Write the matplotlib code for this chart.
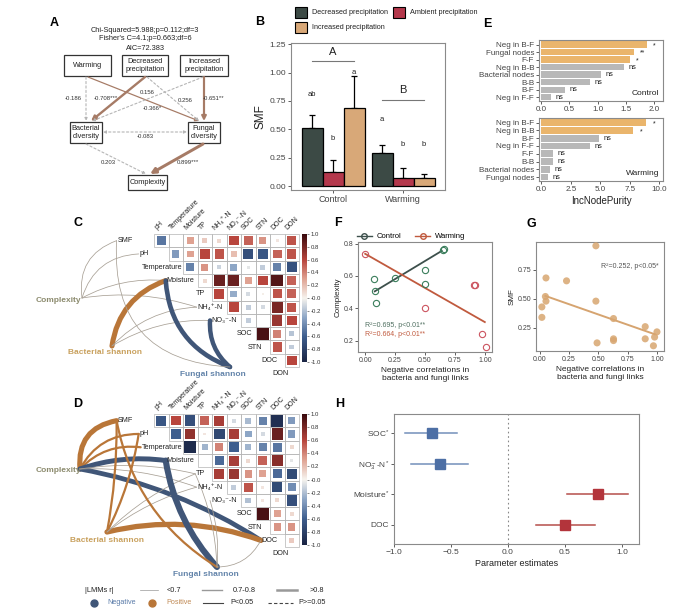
import numpy as np
import matplotlib
matplotlib.use("Agg")
import matplotlib.pyplot as plt
from matplotlib.colors import LinearSegmentedColormap, Normalize
from matplotlib.patches import Rectangle, FancyArrowPatch, PathPatch
from matplotlib.path import Path
from matplotlib.lines import Line2D
import matplotlib.cm as cm

plt.rcParams["font.family"] = ["Liberation Sans", "DejaVu Sans"]
plt.rcParams["mathtext.fontset"] = "custom"
plt.rcParams["mathtext.rm"] = "Liberation Sans"
plt.rcParams["mathtext.it"] = "Liberation Sans:italic"
plt.rcParams["mathtext.bf"] = "Liberation Sans:bold"

# ===================== DATA =====================
# A: SEM
sem_fit = ["Chi-Squared=5.988;p=0.112;df=3", "Fisher's C=4.1;p=0.663;df=6", "AIC=72.383"]
sem_node_keys = ["warm", "dec", "inc", "bac", "fun", "cpx"]
sem_node_labels = ["Warming", "Decreased\nprecipitation", "Increased\nprecipitation",
                   "Bacterial\ndiversity", "Fungal\ndiversity", "Complexity"]
sem_src = ["warm", "dec", "warm", "dec", "inc", "inc", "bac", "bac", "fun"]
sem_dst = ["bac", "bac", "fun", "fun", "bac", "fun", "fun", "cpx", "cpx"]
sem_coef = [-0.186, -0.708, -0.366, 0.256, 0.156, -0.651, -0.083, 0.203, 0.899]
sem_stars = ["", "***", "*", "", "", "**", "", "", "***"]

# B: SMF bars
smf_groups = ["Control", "Warming"]
smf_treat = ["Decreased precipitation", "Ambient precipitation", "Increased precipitation"]
smf_ctrl = [0.51, 0.125, 0.69]
smf_ctrl_up = [0.63, 0.225, 0.97]
smf_warm = [0.29, 0.075, 0.068]
smf_warm_up = [0.36, 0.155, 0.11]
smf_ctrl_letters = ["ab", "b", "a"]
smf_ctrl_letter_y = [0.81, 0.42, 1.00]
smf_warm_letters = ["a", "b", "b"]
smf_warm_letter_y = [0.59, 0.37, 0.37]
smf_group_letters = ["A", "B"]
smf_group_letter_y = [1.18, 0.845]
smf_group_line_y = [1.10, 0.755]

# E: random forest importance
imp_ctrl_labels = ["Neg in B-F", "Fungal nodes", "F-F", "Neg in B-B", "Bacterial nodes", "B-B", "B-F", "Neg in F-F"]
imp_ctrl = [1.87, 1.65, 1.58, 1.46, 1.06, 0.87, 0.42, 0.17]
imp_ctrl_sig = ["*", "**", "*", "ns", "ns", "ns", "ns", "ns"]
imp_warm_labels = ["Neg in B-F", "Neg in B-B", "B-F", "Neg in F-F", "F-F", "B-B", "Bacterial nodes", "Fungal nodes"]
imp_warm = [8.9, 7.8, 4.9, 4.1, 1.0, 0.95, 0.75, 0.55]
imp_warm_sig = ["*", "*", "ns", "ns", "ns", "ns", "ns", "ns"]

# C / D: correlation matrices (upper triangle rows)
corr_rows = ["SMF", "pH", "Temperature", "Moisture", "TP", "NH₄⁺-N", "NO₃⁻-N", "SOC", "STN", "DOC", "DON"]
corr_cols = ["pH", "Temperature", "Moisture", "TP", "NH₄⁺-N", "NO₃⁻-N", "SOC", "STN", "DOC", "DON"]
corr_c = [
    [-0.50, 0.00, 0.30, 0.15, 0.10, 0.60, 0.50, 0.35, 0.05, 0.55],
    [-0.35, 0.30, 0.60, 0.55, 0.20, -0.70, -0.65, 0.50, 0.55],
    [-0.45, 0.35, -0.12, -0.30, -0.05, -0.15, -0.45, -0.68],
    [0.10, 0.85, 0.85, 0.30, 0.60, 0.92, 0.50],
    [0.60, -0.28, -0.10, 0.02, 0.55, 0.50],
    [0.60, -0.15, -0.10, 0.80, 0.55],
    [-0.15, 0.00, 0.70, 0.60],
    [0.95, 0.40, -0.18],
    [0.55, -0.15],
    [0.60],
]
corr_d = [
    [-0.65, 0.60, -0.70, 0.50, 0.65, -0.10, -0.22, -0.45, -0.92, -0.35],
    [-0.60, 0.72, 0.05, -0.75, 0.65, -0.30, -0.10, 0.85, -0.35],
    [-0.95, -0.25, 0.40, -0.60, -0.25, -0.45, -0.50, 0.10],
    [0.00, -0.55, 0.65, 0.10, 0.50, 0.75, -0.05],
    [0.65, 0.70, 0.35, 0.30, -0.55, -0.72],
    [-0.15, 0.55, 0.05, -0.72, -0.40],
    [-0.20, 0.05, 0.10, -0.70],
    [0.95, 0.30, 0.10],
    [0.35, 0.35],
    [0.15],
]
# network links (LMMs r)
c_link_from = ["Complexity", "Complexity", "Complexity", "Complexity",
               "Bacterial shannon", "Bacterial shannon", "Bacterial shannon",
               "Fungal shannon", "Fungal shannon", "Fungal shannon"]
c_link_to = ["SMF", "pH", "Moisture", "NH₄⁺-N", "Moisture", "NH₄⁺-N", "NO₃⁻-N", "Moisture", "NO₃⁻-N", "SMF"]
c_link_r = [0.45, 0.40, 0.35, 0.30, 0.86, 0.40, 0.38, -0.83, -0.82, 0.42]
d_link_from = ["Complexity"] * 7 + ["Bacterial shannon"] * 5 + ["Fungal shannon"] * 5
d_link_to = ["SMF", "pH", "Temperature", "Moisture", "DOC", "TP", "NH₄⁺-N",
             "SMF", "pH", "DOC", "TP", "NH₄⁺-N",
             "Moisture", "SMF", "DOC", "TP", "NO₃⁻-N"]
d_link_r = [0.86, 0.75, 0.74, -0.85, -0.84, 0.30, 0.35,
            0.76, 0.75, 0.87, 0.30, 0.30,
            -0.92, 0.74, 0.40, 0.30, 0.30]

# F: complexity vs negative correlations
f_ctrl_x = [0.07, 0.08, 0.09, 0.25, 0.50, 0.50, 0.65, 0.655]
f_ctrl_y = [0.58, 0.505, 0.43, 0.586, 0.635, 0.55, 0.763, 0.768]
f_warm_x = [0.00, 0.50, 0.91, 0.915, 0.98, 1.01]
f_warm_y = [0.737, 0.40, 0.545, 0.545, 0.243, 0.158]
f_ctrl_fit_x = [0.08, 0.64]
f_ctrl_fit_y = [0.505, 0.755]
f_warm_fit_x = [0.00, 1.00]
f_warm_fit_y = [0.737, 0.315]
f_ctrl_stat = "R²=0.695, p<0.01**"
f_warm_stat = "R²=0.664, p<0.01**"

# G: SMF vs negative correlations
g_x = [0.02, 0.02, 0.05, 0.055, 0.055, 0.23, 0.48, 0.48, 0.49, 0.63, 0.63, 0.63, 0.90, 0.90, 0.97, 0.98, 1.00]
g_y = [0.43, 0.34, 0.52, 0.48, 0.68, 0.655, 0.957, 0.48, 0.12, 0.33, 0.155, 0.14, 0.26, 0.155, 0.095, 0.17, 0.215]
g_fit_x = [0.05, 0.98]
g_fit_y = [0.525, 0.195]
g_stat = "R²=0.252, p<0.05*"

# H: LMM parameter estimates
lmm_vars = ["SOC", r"NO$_3^-$-N", "Moisture", "DOC"]
lmm_sig = ["*", "*", "*", ""]
lmm_est = [-0.67, -0.60, 0.79, 0.50]
lmm_lo = [-0.90, -0.85, 0.52, 0.25]
lmm_hi = [-0.45, -0.35, 1.05, 0.76]

# ===================== STYLE =====================
W, H = 700, 615
fig = plt.figure(figsize=(W / 100, H / 100), dpi=100)
TXT = "#222222"
TICK = "#444444"
SPINE = "#8A8A8A"
smf_colors = ["#3C4A45", "#B4384C", "#D8A878"]
orange, grey_bar = "#EAB56C", "#B8B8B8"
pos_col, neg_col, thin_col = "#B97638", "#405678", "#A8A095"
cmap = LinearSegmentedColormap.from_list(
    "rb", [(0.0, "#1A2443"), (0.2, "#3E5E8E"), (0.35, "#8EA6C6"), (0.5, "#F6F3EE"),
           (0.65, "#DFA393"), (0.8, "#B8453D"), (1.0, "#3A0A0E")])
norm = Normalize(-1, 1)


def px_axes(l, t, r, b):
    return fig.add_axes([l / W, 1 - b / H, (r - l) / W, (b - t) / H])


def style_axes(ax, fs=5.5):
    for s in ax.spines.values():
        s.set_color(SPINE)
        s.set_linewidth(0.8)
    ax.tick_params(labelsize=fs, colors=TICK, length=2, width=0.6, pad=1.5)


ov = px_axes(0, 0, W, H)
ov.set_xlim(0, W)
ov.set_ylim(H, 0)
ov.axis("off")

for lab, (x, y) in zip("ABCDEFGH", [(54, 23), (260, 22), (78, 223), (78, 404),
                                     (487, 24), (338, 223), (531, 224), (340, 404)]):
    ov.text(x, y, lab, fontsize=9, fontweight="bold", ha="center", va="center", color="black")

# ===================== A =====================
for i, line in enumerate(sem_fit):
    ov.text(145, 30 + 9 * i, line, fontsize=5.3, ha="center", va="center", color=TXT)
box_geom = {"warm": (64, 55, 111, 76), "dec": (122, 55, 168, 76), "inc": (180, 55, 228, 76),
            "bac": (70, 122, 102, 143), "fun": (188, 122, 220, 143), "cpx": (128, 175, 167, 190)}
for key, lab in zip(sem_node_keys, sem_node_labels):
    l, t, r, b = box_geom[key]
    ov.add_patch(Rectangle((l, t), r - l, b - t, fill=False, ec="#333333", lw=0.9))
    ov.text((l + r) / 2, (t + b) / 2, lab, fontsize=5.3, ha="center", va="center",
            linespacing=1.05, color=TXT)
path_geom = [((86, 77), (86, 121), (73, 99)),
             ((145, 77), (91, 121), (106, 99)),
             ((88, 77), (199, 121), (152, 108)),
             ((147, 77), (199, 121), (185, 100)),
             ((203, 77), (92, 121), (147, 93)),
             ((204, 77), (204, 121), (214, 99)),
             ((103, 132), (187, 132), (145, 137)),
             ((86, 144), (146, 174), (108, 162)),
             ((203, 144), (150, 174), (188, 162))]
for s, d, c, st, (p0, p1, lp) in zip(sem_src, sem_dst, sem_coef, sem_stars, path_geom):
    sig = st != ""
    style = "<|-|>" if (s, d) == ("bac", "fun") else "-|>"
    if sig:
        arr = FancyArrowPatch(p0, p1, arrowstyle=style, mutation_scale=4 + 4 * abs(c),
                              color="#A67B66", lw=2.4 * abs(c), shrinkA=0, shrinkB=0)
    else:
        arr = FancyArrowPatch(p0, p1, arrowstyle=style, mutation_scale=4, color="#B5B5B5",
                              lw=0.8, linestyle=(0, (2, 2)), shrinkA=0, shrinkB=0)
    ov.add_patch(arr)
    ov.text(lp[0], lp[1], f"{c:.3f}{st}", fontsize=4.3, ha="center", va="center", color="#333333")

# ===================== B =====================
axb = px_axes(291, 43, 445, 190)
xs = np.arange(len(smf_groups)) + 1.0
bw = 0.3
for k, col in enumerate(smf_colors):
    pos = xs + (k - 1) * bw
    vals = np.array([smf_ctrl[k], smf_warm[k]])
    ups = np.array([smf_ctrl_up[k], smf_warm_up[k]])
    axb.errorbar(pos, vals, yerr=[np.zeros(2), ups - vals], fmt="none", ecolor="black",
                 elinewidth=0.9, capsize=2.2, capthick=0.9, zorder=1)
    axb.bar(pos, vals, bw, color=col, edgecolor="black", lw=0.9, zorder=2)
    for p, lt, ly in zip(pos, [smf_ctrl_letters[k], smf_warm_letters[k]],
                         [smf_ctrl_letter_y[k], smf_warm_letter_y[k]]):
        axb.text(p, ly, lt, ha="center", va="center", fontsize=5.5, color=TXT)
for g in range(len(smf_groups)):
    axb.text(xs[g], smf_group_letter_y[g], smf_group_letters[g], ha="center", va="center",
             fontsize=8, color=TXT)
    axb.plot([xs[g] - 0.3, xs[g] + 0.3], [smf_group_line_y[g]] * 2, color="#777777", lw=0.8)
axb.set_xlim(0.4, 2.6)
axb.set_ylim(-0.035, 1.26)
axb.set_xticks(xs)
axb.set_xticklabels(smf_groups)
axb.set_yticks([0, 0.25, 0.5, 0.75, 1.0, 1.25])
axb.set_yticklabels(["0.00", "0.25", "0.50", "0.75", "1.00", "1.25"])
style_axes(axb, 6)
axb.tick_params(axis="x", labelsize=6.5)
axb.set_ylabel("SMF", fontsize=8.5, color=TXT, labelpad=2)
leg_pos = [(295, 7), (393, 7), (295, 22)]
for (x, y), lab, col in zip(leg_pos, smf_treat, smf_colors):
    ov.add_patch(Rectangle((x, y), 12, 11, fc=col, ec="black", lw=0.8))
    ov.text(x + 17, y + 5.5, lab, fontsize=5.2, va="center", ha="left", color=TXT)

# ===================== E =====================
def imp_panel(rect, labels, vals, sigs, xlim, ticks, ticklabels, tag, off):
    ax = px_axes(*rect)
    y = np.arange(len(labels))
    cols = [orange if s != "ns" else grey_bar for s in sigs]
    ax.barh(y, vals, height=0.85, color=cols, zorder=2)
    for yi, v, s in zip(y, vals, sigs):
        if s == "ns":
            ax.text(v + off, yi, s, fontsize=5.3, va="center", ha="left", color=TXT)
        else:
            ax.text(v + off * 1.3, yi + 0.15, s, fontsize=5, va="center", ha="left", color=TXT)
    ax.set_ylim(7.5, -0.6)
    ax.set_xlim(*xlim)
    ax.set_yticks(y)
    ax.set_yticklabels(labels)
    ax.set_xticks(ticks)
    ax.set_xticklabels(ticklabels)
    style_axes(ax, 5.8)
    ax.text(0.97, 0.06, tag, transform=ax.transAxes, ha="right", va="bottom", fontsize=6, color=TXT)
    return ax

imp_panel((539, 40, 663, 101), imp_ctrl_labels, imp_ctrl, imp_ctrl_sig, (-0.04, 2.16),
          [0, 0.5, 1.0, 1.5, 2.0], ["0.0", "0.5", "1.0", "1.5", "2.0"], "Control", 0.08)
axe2 = imp_panel((539, 118, 663, 181), imp_warm_labels, imp_warm, imp_warm_sig, (-0.2, 10.3),
                 [0, 2.5, 5, 7.5, 10], ["0.0", "2.5", "5.0", "7.5", "10.0"], "Warming", 0.4)
axe2.set_xlabel("IncNodePurity", fontsize=7, color=TXT, labelpad=2)

# ===================== C / D heatmaps + networks =====================
cell_w, cell_h = 14.5, 13.3
row_gap = [1.45, 1.35, 0.05, 0.2, 0.45, 0.25, 0.3, 0.25, 0.55, 0.45, 0.7]


def draw_corr(top, rmat):
    ax = px_axes(154, top, 154 + 10 * cell_w, top + 10 * cell_h)
    ax.set_xlim(0, 10)
    ax.set_ylim(10, 0)
    ax.axis("off")
    for i, row in enumerate(rmat):
        for k, v in enumerate(row):
            j = i + k
            ax.add_patch(Rectangle((j, i), 1, 1, fill=False, ec="#B4B4B4", lw=0.5, clip_on=False))
            s = 0.93 * np.sqrt(abs(v))
            sw = s * cell_h / cell_w
            ax.add_patch(Rectangle((j + 0.5 - sw / 2, i + 0.5 - s / 2), sw, s,
                                   fc=cmap(norm(v)), ec="none", clip_on=False))
    for j, lab in enumerate(corr_cols):
        ax.text(j + 0.3, -0.2, lab, rotation=45, ha="left", va="bottom", rotation_mode="anchor",
                fontsize=5, color=TXT, clip_on=False)
    texts = {}
    for i, lab in enumerate(corr_rows):
        texts[lab] = ax.text(i - row_gap[i], i + 0.5, lab, ha="right", va="center",
                             fontsize=5.2, color=TXT, clip_on=False)
    cax = px_axes(302, top, 307, top + 128 + (top > 300) * 3)
    ticks = np.round(np.arange(-1, 1.01, 0.2), 1)
    cb = fig.colorbar(cm.ScalarMappable(norm=norm, cmap=cmap), cax=cax, ticks=ticks)
    cb.outline.set_visible(False)
    cb.ax.tick_params(labelsize=4.3, length=1.5, width=0.4, pad=1, colors="#333333")
    cb.ax.set_yticklabels([f"{v:.1f}" for v in ticks])
    return texts


texts_c = draw_corr(234, corr_c)
texts_d = draw_corr(414, corr_d)

renderer = fig.canvas.get_renderer()
inv = ov.transData.inverted()


def anchors_of(texts):
    out = {}
    for lab, t in texts.items():
        bb = t.get_window_extent(renderer=renderer)
        out[lab] = inv.transform((bb.x0 - 1, (bb.y0 + bb.y1) / 2))
    return out


def draw_links(froms, tos, rs, curvs, nodes, anchors):
    for f, t, r, c in zip(froms, tos, rs, curvs):
        p0 = np.array(nodes[f], float)
        p1 = np.array(anchors[t], float)
        d = p1 - p0
        perp = np.array([-d[1], d[0]])
        ctrl = (p0 + p1) / 2 + c * perp
        a = abs(r)
        if a < 0.7:
            lw, col = 0.55, thin_col
        elif a < 0.8:
            lw, col = 1.6, (pos_col if r > 0 else neg_col)
        else:
            lw, col = 3.2 + 12 * (a - 0.82), (pos_col if r > 0 else neg_col)
        path = Path([p0, ctrl, p1], [Path.MOVETO, Path.CURVE3, Path.CURVE3])
        ov.add_patch(PathPatch(path, fill=False, ec=col, lw=lw, capstyle="round"))


node_colors = {"Complexity": "#8C8B6E", "Bacterial shannon": "#C9A15E", "Fungal shannon": "#6384AA"}
c_nodes = {"Complexity": (82, 298), "Bacterial shannon": (112, 346), "Fungal shannon": (230, 367)}
c_label_pos = {"Complexity": (58, 301), "Bacterial shannon": (105, 352), "Fungal shannon": (213, 375)}
d_nodes = {"Complexity": (80, 469), "Bacterial shannon": (107, 532), "Fungal shannon": (217, 567)}
d_label_pos = {"Complexity": (58, 471), "Bacterial shannon": (107, 541), "Fungal shannon": (206, 575)}
c_curv = [-0.4, -0.35, -0.15, -0.12, -0.3, -0.2, -0.15, -0.32, -0.25, -0.5]
d_curv = [-0.45, -0.3, -0.25, -0.12, -0.1, -0.1, -0.1,
          0.05, 0.08, -0.15, -0.1, -0.1,
          -0.15, -0.22, 0.3, 0.1, 0.1]

draw_links(c_link_from, c_link_to, c_link_r, c_curv, c_nodes, anchors_of(texts_c))
draw_links(d_link_from, d_link_to, d_link_r, d_curv, d_nodes, anchors_of(texts_d))
for lp in (c_label_pos, d_label_pos):
    for name, (x, y) in lp.items():
        ov.text(x, y, name, fontsize=6, fontweight="bold", color=node_colors[name],
                ha="center", va="center")

# D legend
ov.text(85, 590, "|LMMs r|", fontsize=5.3, va="center", ha="left", color=TXT)
for (x0, x1, xt), lab, lw in zip([(140, 158, 167), (202, 222, 233), (277, 297, 310)],
                                 ["<0.7", "0.7-0.8", ">0.8"], [0.5, 1.0, 1.8]):
    ov.plot([x0, x1], [590, 590], color="#999999", lw=lw)
    ov.text(xt, 590, lab, fontsize=5.3, va="center", ha="left", color=TXT)
ov.plot([94], [603], marker="o", ms=5, color=neg_col, ls="none")
ov.text(107, 603, "Negative", fontsize=5.2, va="center", ha="left", color="#5A7BA8")
ov.plot([152], [603], marker="o", ms=5, color=pos_col, ls="none")
ov.text(166, 603, "Positive", fontsize=5.2, va="center", ha="left", color="#C08A55")
ov.plot([203, 223], [603, 603], color="#444444", lw=0.8)
ov.text(230, 603, "P<0.05", fontsize=5.2, va="center", ha="left", color=TXT)
ov.plot([268, 293], [603, 603], color="#444444", lw=0.8, ls=(0, (3, 2)))
ov.text(298, 603, "P>=0.05", fontsize=5.2, va="center", ha="left", color=TXT)

# ===================== F =====================
axf = px_axes(358, 242, 492, 352)
ctrl_line, ctrl_pt = "#3D504C", "#3B7E5C"
warm_line, warm_pt = "#C05A3E", "#CC5560"
axf.plot(f_ctrl_fit_x, f_ctrl_fit_y, color=ctrl_line, lw=1.3, zorder=2)
axf.plot(f_warm_fit_x, f_warm_fit_y, color=warm_line, lw=1.3, zorder=2)
axf.plot(f_ctrl_x, f_ctrl_y, "o", mfc="none", mec=ctrl_pt, ms=4.5, mew=0.8, zorder=3)
axf.plot(f_warm_x, f_warm_y, "o", mfc="none", mec=warm_pt, ms=4.5, mew=0.8, zorder=3)
axf.set_xlim(-0.06, 1.06)
axf.set_ylim(0.13, 0.81)
axf.set_xticks([0, 0.25, 0.5, 0.75, 1.0])
axf.set_xticklabels(["0.00", "0.25", "0.50", "0.75", "1.00"])
axf.set_yticks([0.2, 0.4, 0.6, 0.8])
style_axes(axf, 5)
axf.set_ylabel("Complexity", fontsize=5.8, color=TXT, labelpad=1.5)
axf.set_xlabel("Negative correlations in\nbacteria and fungi links", fontsize=6, color=TXT,
               labelpad=2, linespacing=1.2)
axf.text(0.05, 0.225, f_ctrl_stat, transform=axf.transAxes, fontsize=5, color="#4F6F60")
axf.text(0.05, 0.145, f_warm_stat, transform=axf.transAxes, fontsize=5, color=warm_line)
axf.legend(handles=[Line2D([], [], color=ctrl_line, marker="o", mfc="none", mec=ctrl_line, ms=4, lw=1),
                    Line2D([], [], color=warm_line, marker="o", mfc="none", mec=warm_line, ms=4, lw=1)],
           labels=["Control", "Warming"], loc="lower left", bbox_to_anchor=(-0.02, 1.0), ncol=2,
           frameon=False, fontsize=5.5, handlelength=2.0, columnspacing=1.8, borderaxespad=0.1,
           handletextpad=0.6, borderpad=0.1)

# ===================== G =====================
axg = px_axes(536, 242, 664, 351)
axg.plot(g_fit_x, g_fit_y, color="#D6A470", lw=1.4, zorder=2)
axg.scatter(g_x, g_y, s=26, color="#D8A670", alpha=0.85, edgecolors="none", zorder=3)
axg.set_xlim(-0.03, 1.06)
axg.set_ylim(0.05, 0.99)
axg.set_xticks([0, 0.25, 0.5, 0.75, 1.0])
axg.set_xticklabels(["0.00", "0.25", "0.50", "0.75", "1.00"])
axg.set_yticks([0.25, 0.5, 0.75])
axg.set_yticklabels(["0.25", "0.50", "0.75"])
style_axes(axg, 5)
axg.set_ylabel("SMF", fontsize=5.8, color=TXT, labelpad=1.5)
axg.set_xlabel("Negative correlations in\nbacteria and fungi links", fontsize=6, color=TXT,
               labelpad=2, linespacing=1.2)
axg.text(0.96, 0.76, g_stat, transform=axg.transAxes, fontsize=5, color="#555555", ha="right")

# ===================== H =====================
axh = px_axes(394, 414, 639, 544)
yy = np.arange(len(lmm_vars))
for yi, e, lo, hi in zip(yy, lmm_est, lmm_lo, lmm_hi):
    pt = "#4D6FA5" if e < 0 else "#B3343B"
    ln = "#7390BA" if e < 0 else "#B54E4A"
    axh.plot([lo, hi], [yi, yi], color=ln, lw=1.1, zorder=2)
    axh.plot([e], [yi], marker="s", ms=6.5, color=pt, zorder=3, ls="none")
axh.axvline(0, color="#888888", lw=0.8, ls=(0, (1.5, 2.5)), zorder=1)
axh.set_xlim(-1.0, 1.15)
axh.set_ylim(3.62, -0.62)
axh.set_yticks(yy)
axh.set_yticklabels([v + (r"$^{*}$" if s else "") for v, s in zip(lmm_vars, lmm_sig)])
axh.set_xticks([-1.0, -0.5, 0.0, 0.5, 1.0])
style_axes(axh, 6)
axh.set_xlabel("Parameter estimates", fontsize=6.5, color=TXT, labelpad=2)

fig.savefig("out.png", dpi=100)
